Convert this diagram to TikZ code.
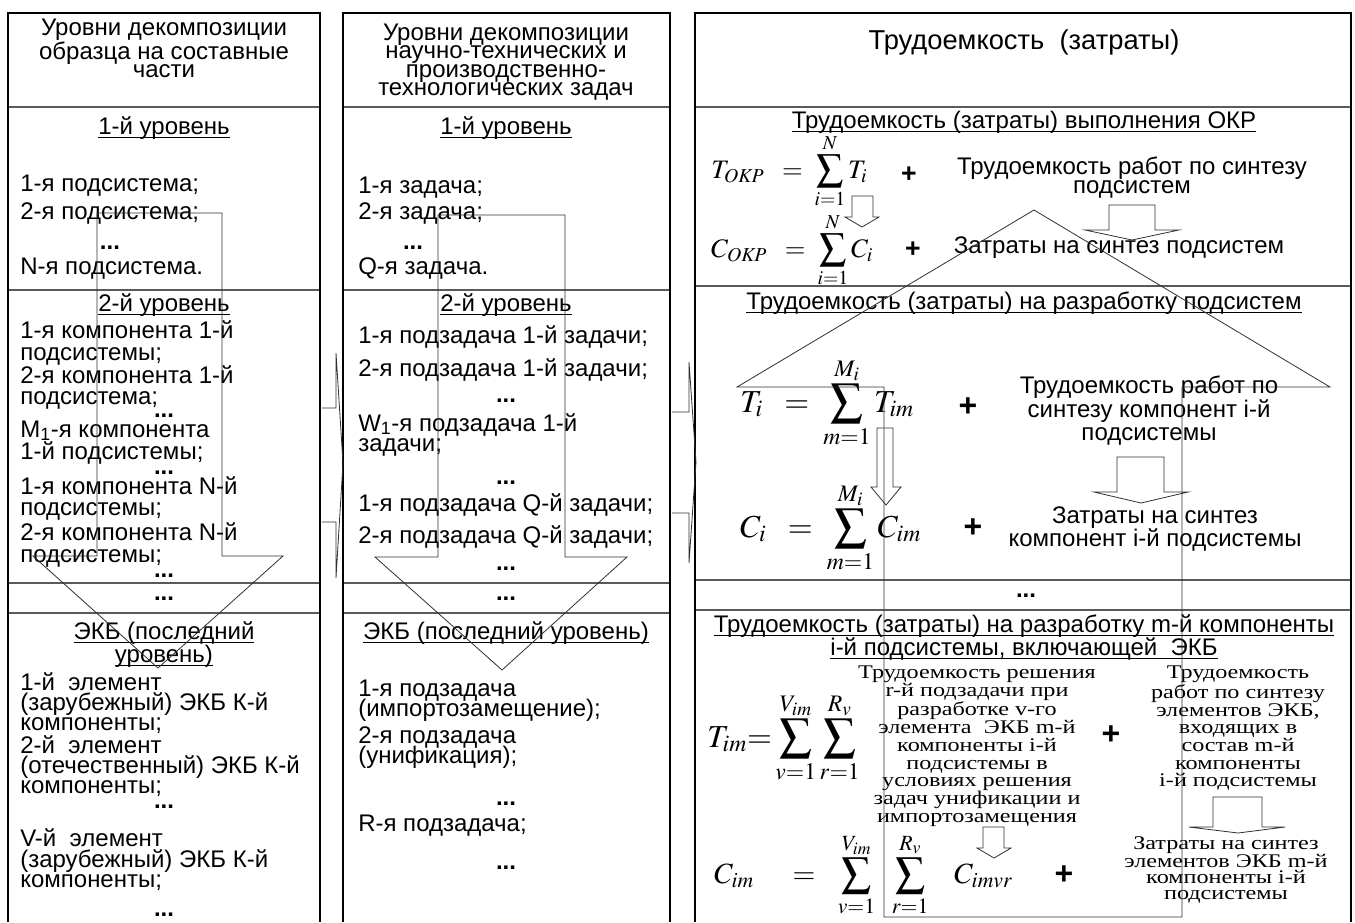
\documentclass[tikz,border=0pt]{standalone}
\usepackage{mathptmx}
\usepackage[no-math]{fontspec}
\setmainfont{Liberation Serif}
\setsansfont{Liberation Sans}
\newfontfamily\widetimes[FakeStretch=1.25]{Liberation Serif}
\usetikzlibrary{positioning}
\definecolor{rulegray}{HTML}{5A5A5A}
\definecolor{arrowgray}{HTML}{303030}
\newcommand{\lvl}[1]{\underline{\raisebox{0pt}[\height][0pt]{#1}}}

\begin{document}
\begin{tikzpicture}[x=0.75pt, y=-0.75pt,
  every node/.style={inner sep=0pt, font=\sffamily\fontsize{18}{15.4}\selectfont},
  frame/.style={line width=2.2pt},
  rowline/.style={draw=rulegray, line width=1pt},
  blockarrow/.style={draw=arrowgray, line width=0.6pt},
  headtext/.style={align=center, anchor=north, font=\sffamily\fontsize{18}{13.6}\selectfont},
  leveltitle/.style={text height=12.5pt, text depth=3.5pt},
  item/.style={anchor=west, text height=12.5pt, text depth=3.5pt},
  dotsnode/.style={anchor=base, font=\sffamily\bfseries\fontsize{18}{18}\selectfont},
  sansblock/.style={align=center, anchor=north},
  serifblock/.style={align=center, anchor=north, font=\widetimes\fontsize{14.5}{13.3}\selectfont},
  formula/.style={anchor=base west},
  plus/.style={font=\sffamily\bfseries\fontsize{20}{20}\selectfont}]

  \useasboundingbox (0,0) rectangle (1355,922);

  % row lines
  \foreach \y in {107,290,583,613} {
    \draw[rowline] (8,\y) -- (320,\y);
    \draw[rowline] (343,\y) -- (670,\y);
  }
  \foreach \y in {107,286,580,610}
    \draw[rowline] (695,\y) -- (1351,\y);

  % column frames
  \draw[frame] (8,922) |- (320,13) -- (320,922);
  \draw[frame] (343,922) |- (670,13) -- (670,922);
  \draw[frame] (695,922) |- (1351,13) -- (1351,922);

  % headers
  \node[headtext] (headparts) at (164,19) {Уровни декомпозиции\\образца на составные\\части};
  \node[headtext] (headtasks) at (506,24) {Уровни декомпозиции\\научно-технических и\\производственно-\\технологических задач};
  \node[font=\sffamily\fontsize{20.5}{20.5}\selectfont] (headcost) at (1024,42) {Трудоемкость\ \ (затраты)};

  % 1st level
  \node[leveltitle] (lvlonea) at (164,128) {\lvl{1-й уровень}};
  \node[leveltitle] (lvloneb) at (506,128) {\lvl{1-й уровень}};
  \foreach \y/\t [count=\n] in {185/{1-я подсистема;}, 213/{2-я подсистема;}, 268/{N-я подсистема.}}
    \node[item] (subsys\n) at (20,\y) {\t};
  \node[dotsnode] (subsysdots) at (110,249) {...};
  \foreach \y/\t [count=\n] in {187/{1-я задача;}, 213/{2-я задача;}, 268/{Q-я задача.}}
    \node[item] (task\n) at (358,\y) {\t};
  \node[dotsnode] (taskdots) at (413,249) {...};

  % 2nd level
  \node[leveltitle] (lvltwoa) at (164,305) {\lvl{2-й уровень}};
  \node[leveltitle] (lvltwob) at (506,305) {\lvl{2-й уровень}};
  \foreach \y/\t [count=\n] in {332/{1-я компонента 1-й}, 354/{подсистемы;}, 377/{2-я компонента 1-й}, 398/{подсистема;},
      431/{M\textsubscript{1}-я компонента}, 453/{1-й подсистемы;}, 488/{1-я компонента N-й}, 509/{подсистемы;},
      534/{2-я компонента N-й}, 556/{подсистемы;}}
    \node[item] (comp\n) at (20,\y) {\t};
  \foreach \y [count=\n] in {417,474,577}
    \node[dotsnode] (compdots\n) at (164,\y) {...};
  \foreach \y/\t [count=\n] in {337/{1-я подзадача 1-й задачи;}, 370/{2-я подзадача 1-й задачи;},
      425/{W\textsubscript{1}-я подзадача 1-й}, 445/{задачи;}, 505/{1-я подзадача Q-й задачи;}, 537/{2-я подзадача Q-й задачи;}}
    \node[item] (subtask\n) at (358,\y) {\t};
  \foreach \y [count=\n] in {402,484,570}
    \node[dotsnode] (subtaskdots\n) at (506,\y) {...};

  % intermediate levels
  \node[dotsnode] (middotsa) at (164,600) {...};
  \node[dotsnode] (middotsb) at (506,600) {...};
  \node[dotsnode] (middotsc) at (1026,597) {...};

  % last level (ЭКБ)
  \node[sansblock] (ekbtitlea) at (164,621) {\lvl{ЭКБ (последний}\\\lvl{уровень)}};
  \node[leveltitle] (ekbtitleb) at (506,633) {\lvl{ЭКБ (последний уровень)}};
  \foreach \y/\t [count=\n] in {684/{1-й\ \ элемент}, 704/{(зарубежный) ЭКБ К-й}, 724/{компоненты;},
      747/{2-й\ \ элемент}, 767/{(отечественный) ЭКБ К-й}, 787/{компоненты;},
      840/{V-й\ \ элемент}, 861/{(зарубежный) ЭКБ К-й}, 881/{компоненты;}}
    \node[item] (elem\n) at (20,\y) {\t};
  \foreach \y [count=\n] in {808,916}
    \node[dotsnode] (elemdots\n) at (164,\y) {...};
  \foreach \y/\t [count=\n] in {690/{1-я подзадача}, 710/{(импортозамещение);}, 737/{2-я подзадача},
      757/{(унификация);}, 825/{R-я подзадача;}}
    \node[item] (ekbtask\n) at (358,\y) {\t};
  \foreach \y [count=\n] in {805,869}
    \node[dotsnode] (ekbtaskdots\n) at (506,\y) {...};

  % cost: whole work
  \node[leveltitle] (okptitle) at (1024,122) {\lvl{Трудоемкость (затраты) выполнения ОКР}};
  \node[formula] (tokp) at (711,178) {\fontsize{20}{20}\selectfont$\displaystyle T_{\mathit{OKP}}\;\;=\;\sum_{i=1}^{N}T_{i}$};
  \node[plus] (plusa) at (909,175) {+};
  \node[sansblock, font=\sffamily\fontsize{18}{14.3}\selectfont] (synthsub) at (1132,157) {Трудоемкость работ по синтезу\\подсистем};
  \node[formula] (cokp) at (711,257) {\fontsize{20}{20}\selectfont$\displaystyle C_{\mathit{OKP}}\;\;=\;\sum_{i=1}^{N}C_{i}$};
  \node[plus] (plusb) at (913,250) {+};
  \node (synthcost) at (1119,248) {Затраты на синтез подсистем};

  % cost: subsystems
  \node[leveltitle] (subtitle) at (1024,303) {\lvl{Трудоемкость (затраты) на разработку подсистем}};
  \node[formula] (ti) at (740,412) {\fontsize{24}{24}\selectfont$\displaystyle T_{i}\;\;=\;\sum_{m=1}^{M_i}T_{im}$};
  \node[plus, font=\sffamily\bfseries\fontsize{24}{24}\selectfont] (plusc) at (968,407) {+};
  \node[sansblock, font=\sffamily\fontsize{18}{17.5}\selectfont] (synthcomp) at (1149,376) {Трудоемкость работ по\\синтезу компонент i-й\\подсистемы};
  \node[formula] (ci) at (740,537) {\fontsize{24}{24}\selectfont$\displaystyle C_{i}\;\;=\;\sum_{m=1}^{M_i}C_{im}$};
  \node[plus, font=\sffamily\bfseries\fontsize{24}{24}\selectfont] (plusd) at (973,528) {+};
  \node[sansblock, font=\sffamily\fontsize{18}{17.3}\selectfont] (compcost) at (1155,506) {Затраты на синтез\\компонент i-й подсистемы};

  % cost: components
  \node[sansblock, font=\sffamily\fontsize{18}{17.3}\selectfont] (comptitle) at (1024,614) {\lvl{Трудоемкость (затраты) на разработку m-й компоненты}\\\lvl{i-й подсистемы, включающей\ \ ЭКБ}};
  \node[formula] (tim) at (707,747) {\fontsize{24}{24}\selectfont$\displaystyle T_{im}{=}\sum_{v=1}^{V_{im}}\sum_{r=1}^{R_v}$};
  \node[serifblock] (solvework) at (977,666) {Трудоемкость решения\\r-й подзадачи при\\разработке v-го\\элемента\ \ ЭКБ m-й\\компоненты i-й\\подсистемы в\\условиях решения\\задач унификации и\\импортозамещения};
  \node[plus, font=\sffamily\bfseries\fontsize{24}{24}\selectfont] (pluse) at (1111,735) {+};
  \node[serifblock] (elemwork) at (1238,666) {Трудоемкость\\работ по синтезу\\элементов ЭКБ,\\входящих в\\состав m-й\\компоненты\\i-й подсистемы};
  \node[formula] (cim) at (714,883) {\fontsize{22}{22}\selectfont$\displaystyle C_{im}\hspace{24pt}=\hspace{12pt}\sum_{v=1}^{V_{im}}\hspace{10pt}\sum_{r=1}^{R_v}\hspace{17pt}C_{imvr}$};
  \node[plus, font=\sffamily\bfseries\fontsize{24}{24}\selectfont] (plusf) at (1064,875) {+};
  \node[serifblock, font=\widetimes\fontsize{14.5}{12}\selectfont] (elemcost) at (1226,836) {Затраты на синтез\\элементов ЭКБ m-й\\компоненты i-й\\подсистемы};

  % block arrows
  \draw[blockarrow] (97,213) -- (97,556) -- (33,556) -- (158,668) -- (283,556) -- (222,556) -- (222,213) -- cycle;
  \draw[blockarrow] (438,215) -- (438,557) -- (375,557) -- (502,670) -- (627,557) -- (565,557) -- (565,215) -- cycle;
  \draw[blockarrow] (322,408) -- (336,408) -- (336,353) -- (343,463) -- (336,578) -- (336,522) -- (322,522);
  \draw[blockarrow] (672,412) -- (689,412) -- (689,362) -- (696,462) -- (689,563) -- (689,513) -- (672,513);
  \draw[blockarrow] (884,917) -- (884,387) -- (737,387) -- (1034,210) -- (1330,387) -- (1182,387) -- (1182,917) -- cycle;
  \draw[blockarrow] (852,196) -- (852,217) -- (845,217) -- (862,227) -- (879,217) -- (873,217) -- (873,196) -- cycle;
  \draw[blockarrow] (1109,205) -- (1109,230) -- (1085,230) -- (1132,240) -- (1179,230) -- (1155,230) -- (1155,205) -- cycle;
  \draw[blockarrow] (877,428) -- (877,487) -- (871,487) -- (886,505) -- (901,487) -- (893,487) -- (893,428) -- cycle;
  \draw[blockarrow] (1117,457) -- (1117,492) -- (1094,492) -- (1141,503) -- (1188,492) -- (1164,492) -- (1164,457) -- cycle;
  \draw[blockarrow] (983,827) -- (983,848) -- (977,848) -- (994,858) -- (1011,848) -- (1004,848) -- (1004,827) -- cycle;
  \draw[blockarrow] (1213,797) -- (1213,827) -- (1189,827) -- (1238,833) -- (1285,827) -- (1262,827) -- (1262,797) -- cycle;
\end{tikzpicture}
\end{document}
